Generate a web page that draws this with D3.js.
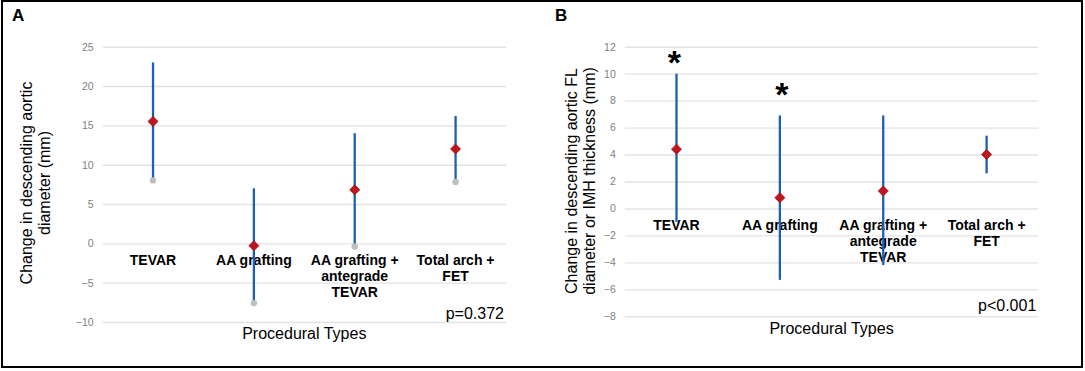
<!DOCTYPE html>
<meta charset="utf-8">
<script src="https://d3js.org/d3.v7.min.js"></script>
<style>
  body { margin: 0; background: #fff; }
  svg { display: block; font-family: Arial, "Liberation Sans", sans-serif; }
  .tick text { fill: #7f7f7f; font-size: 10.5px; }
  .tick line { stroke: #e3e3e3; stroke-width: 1.4; }
  .cat { font-weight: bold; font-size: 14px; fill: #000; }
</style>
<body>
<div id="chart"></div>
<script>

// categories shared by both panels
var categories = ["TEVAR", "AA grafting", "AA grafting + antegrade TEVAR", "Total arch + FET"];
var catLines = [["TEVAR"], ["AA grafting"], ["AA grafting +", "antegrade", "TEVAR"], ["Total arch +", "FET"]];

// panel A: change in descending aortic diameter (mm)
var aTop  = [23.0, 7.0, 14.0, 16.2];
var aMean = [15.5, -0.3, 6.8, 12.0];
var aLow  = [8.0, -7.6, -0.4, 7.8];
var aTicks = [-10, -5, 0, 5, 10, 15, 20, 25];

// panel B: change in FL diameter or IMH thickness (mm)
var bTop  = [10.0, 6.9, 6.9, 5.4];
var bMean = [4.4, 0.8, 1.3, 4.0];
var bLow  = [-1.0, -5.3, -4.2, 2.6];
var bTicks = [-8, -6, -4, -2, 0, 2, 4, 6, 8, 10, 12];
var bStars = ["TEVAR", "AA grafting"];

var W = 1085, H = 371;

var svg = d3.select("#chart").append("svg")
  .attr("width", W)
  .attr("height", H);

svg.append("rect")
  .attr("x", 2).attr("y", 1)
  .attr("width", 1080).attr("height", 366)
  .attr("fill", "none").attr("stroke", "#000").attr("stroke-width", 2);

function drawPanel(p) {
  var g = svg.append("g");

  var x = d3.scaleBand().domain(categories).range([p.x0, p.x1]);
  var y = d3.scaleLinear().domain(d3.extent(p.ticks)).range([p.y0, p.y1]);

  g.append("g")
    .attr("transform", "translate(" + p.x0 + ",0)")
    .call(d3.axisLeft(y).tickValues(p.ticks).tickSize(-(p.x1 - p.x0)).tickPadding(9))
    .call(function(a) { a.select(".domain").remove(); });

  // category labels sit just under the zero line
  var lab = g.selectAll(".cat")
    .data(categories)
    .enter().append("text")
    .attr("class", "cat")
    .attr("text-anchor", "middle")
    .attr("x", function(d) { return x(d) + x.bandwidth() / 2; })
    .attr("y", y(0) + 22);
  lab.each(function(d, i) {
    d3.select(this).selectAll("tspan")
      .data(catLines[i])
      .enter().append("tspan")
      .attr("x", x(d) + x.bandwidth() / 2)
      .attr("dy", function(t, j) { return j === 0 ? 0 : 16; })
      .text(function(t) { return t; });
  });

  var rows = categories.map(function(c, i) {
    return {cat: c, top: p.top[i], mean: p.mean[i], low: p.low[i]};
  });
  var cx = function(d) { return x(d.cat) + x.bandwidth() / 2; };

  g.selectAll(".range")
    .data(rows)
    .enter().append("line")
    .attr("x1", cx).attr("x2", cx)
    .attr("y1", function(d) { return y(d.top); })
    .attr("y2", function(d) { return y(d.low); })
    .attr("stroke", "#1c5fb4")
    .attr("stroke-width", 2.3);

  if (p.lowDots) {
    g.selectAll(".lowdot")
      .data(rows)
      .enter().append("circle")
      .attr("cx", cx)
      .attr("cy", function(d) { return y(d.low); })
      .attr("r", 3.2)
      .attr("fill", "#bfbfbf");
  }

  g.selectAll(".mean")
    .data(rows)
    .enter().append("path")
    .attr("d", d3.symbol().type(d3.symbolDiamond2).size(64))
    .attr("transform", function(d) { return "translate(" + cx(d) + "," + y(d.mean) + ")"; })
    .attr("fill", "#c0151f")
    .attr("stroke", "#a00d14")
    .attr("stroke-width", 0.8);

  if (p.stars) {
    g.selectAll(".star")
      .data(p.stars)
      .enter().append("text")
      .attr("text-anchor", "middle")
      .attr("x", function(d) { return x(d) + x.bandwidth() / 2 + (d === "TEVAR" ? -2 : 2); })
      .attr("y", function(d, i) { return p.starY[i]; })
      .attr("font-weight", "bold")
      .attr("font-size", 34)
      .text("*");
  }

  g.append("text")
    .attr("x", p.letterX).attr("y", 21)
    .attr("font-weight", "bold").attr("font-size", 17)
    .text(p.letter);

  var yt = g.append("text")
    .attr("transform", "translate(" + p.titleX + "," + p.titleY + ") rotate(-90)")
    .attr("text-anchor", "middle")
    .attr("font-size", 16);
  yt.selectAll("tspan")
    .data(p.title)
    .enter().append("tspan")
    .attr("x", 0)
    .attr("dy", function(t, j) { return j === 0 ? 0 : 18; })
    .text(function(t) { return t; });

  g.append("text")
    .attr("x", (p.x0 + p.x1) / 2)
    .attr("y", p.xtY)
    .attr("text-anchor", "middle")
    .attr("font-size", 16)
    .text("Procedural Types");

  g.append("text")
    .attr("x", p.x1 - 2)
    .attr("y", p.pY)
    .attr("text-anchor", "end")
    .attr("font-size", 16)
    .text(p.pText);
}

drawPanel({
  x0: 102.6, x1: 506, y0: 322, y1: 46.7,
  ticks: aTicks, top: aTop, mean: aMean, low: aLow, lowDots: true,
  letter: "A", letterX: 12,
  title: ["Change in descending aortic", "diameter (mm)"], titleX: 32, titleY: 183,
  xtY: 339, pText: "p=0.372", pY: 319
});

drawPanel({
  x0: 624.8, x1: 1038.3, y0: 316.3, y1: 46.7,
  ticks: bTicks, top: bTop, mean: bMean, low: bLow, lowDots: false,
  stars: bStars, starY: [74, 106],
  letter: "B", letterX: 555,
  title: ["Change in descending aortic FL", "diameter or IMH thickness (mm)"], titleX: 577, titleY: 181,
  xtY: 334, pText: "p<0.001", pY: 311
});

</script>
</body>
